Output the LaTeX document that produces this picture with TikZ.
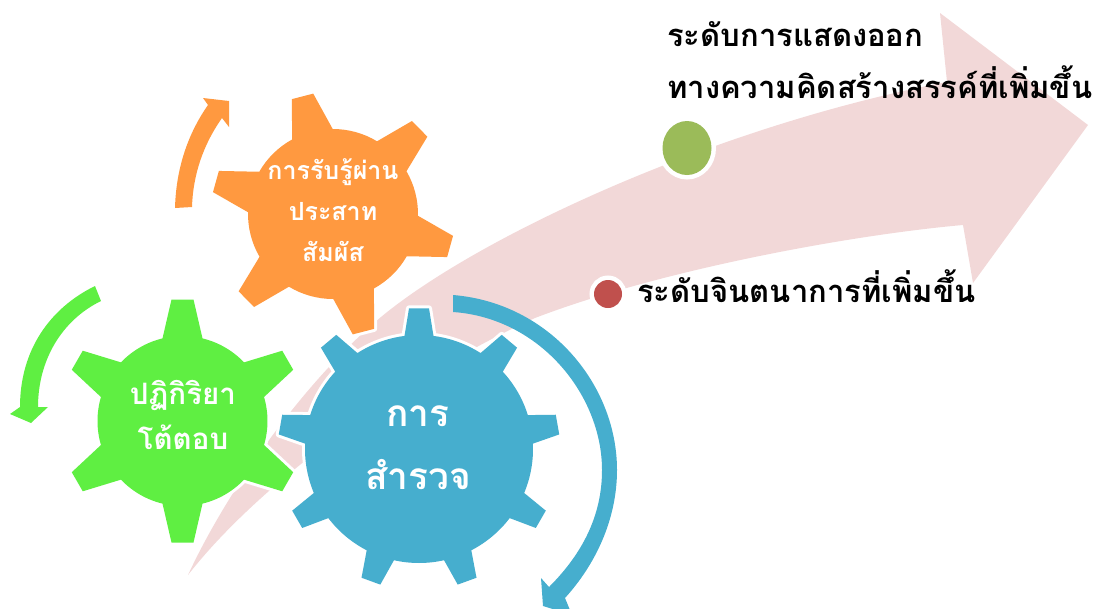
\documentclass[tikz,border=0pt]{standalone}
\usepackage{fontspec}
\newfontfamily\thaifont[Script=Thai]{Loma}
\definecolor{pfeil}{HTML}{F2D8D8}
\definecolor{orangerad}{HTML}{FF9940}
\definecolor{gruenrad}{HTML}{5FEF42}
\definecolor{blaurad}{HTML}{46AECE}
\definecolor{punktgruen}{HTML}{9BBB59}
\definecolor{punktrot}{HTML}{C0504D}
\tikzset{
  gruss/.style 2 args={font=\thaifont\bfseries\fontsize{#1}{#2}\selectfont,text=white,align=center},
  stufe/.style={font=\thaifont\bfseries\fontsize{31}{52}\selectfont,text=black,align=left,anchor=west,inner sep=0pt},
  punkt/.style={preaction={draw=white,line width=9pt}}
}
% colour, x, y, outer radius, body radius, teeth, rotation, tip half width, base half width
\newcommand{\gear}[9]{%
  \pgfmathsetmacro\gearstep{360/#6}
  \pgfmathsetmacro\geartip{asin(#8/#4)}
  \pgfmathsetmacro\gearbase{asin(#9/#5)}
  \begin{scope}[shift={(#2,#3)},x=1pt,y=1pt]
    \path[fill=#1,preaction={draw=white,line width=6pt,line join=round}]
      ({#7-\gearbase}:#5)
      \foreach \i [evaluate=\i as \a using #7+\i*\gearstep] in {1,...,#6} {
        -- ({\a-\gearstep-\geartip}:#4) -- ({\a-\gearstep+\geartip}:#4) -- ({\a-\gearstep+\gearbase}:#5)
        arc[start angle=\a-\gearstep+\gearbase,end angle=\a-\gearbase,radius=#5pt]
      } -- cycle;
  \end{scope}
}
\begin{document}
\begin{tikzpicture}[x=1pt,y=-1pt]
  \useasboundingbox (0,0) rectangle (1102,608);

  % big arrow
  \fill[pfeil] (188,575) .. controls (225,495) and (300,385) .. (381,317)
    .. controls (480,235) and (720,125) .. (947,82)
    -- (940,13) -- (1088,125) -- (973,283) -- (963,225)
    .. controls (850,235) and (660,270) .. (535,318)
    .. controls (430,365) and (270,470) .. (188,575) -- cycle;

  % points on the arrow
  \fill[punktgruen,punkt] (687,148) ellipse (24.5 and 27);
  \fill[punktrot,punkt] (608,294) ellipse (14 and 14);

  % curved arrows
  \fill[orangerad] (175,208) .. controls (176,170) and (187,135) .. (208,105)
    -- (203,98) -- (229,101) -- (229,127) -- (222,118)
    .. controls (203,145) and (193,175) .. (192,207) -- cycle;
  \fill[gruenrad] (95,286) .. controls (50,308) and (20,350) .. (20,407)
    -- (10,414) -- (31,423) -- (48,407) -- (38,407)
    .. controls (38,360) and (62,320) .. (101,301) -- cycle;
  \fill[blaurad] (453,295) .. controls (550,303) and (617,385) .. (617,470)
    .. controls (617,520) and (595,565) .. (565,598)
    -- (572,615) -- (543,606) -- (541,578) -- (549,587)
    .. controls (583,553) and (602,515) .. (602,470)
    .. controls (602,395) and (540,318) .. (453,312) -- cycle;

  % gears
  \gear{orangerad}{333}{214}{122}{85}{6}{-15.5}{11}{21}
  \gear{gruenrad}{182.5}{421}{122}{85}{6}{90}{11}{20}
  \gear{blaurad}{419}{449}{141}{114}{9}{90}{10}{14.5}

  % labels
  \node[gruss={25}{41}] (sinne) at (333,210) {การรับรู้ผ่าน\\ประสาท\\สัมผัส};
  \node[gruss={29.5}{45}] (reaktion) at (183,415) {ปฏิกิริยา\\โต้ตอบ};
  \node[gruss={37}{63}] (erkundung) at (418,448) {การ\\สำรวจ};
  \node[stufe] (kreativ) at (667,60.5) {ระดับการแสดงออก\\ทางความคิดสร้างสรรค์ที่เพิ่มขึ้น};
  \node[stufe] (fantasie) at (637,286) {ระดับจินตนาการที่เพิ่มขึ้น};
\end{tikzpicture}
\end{document}
